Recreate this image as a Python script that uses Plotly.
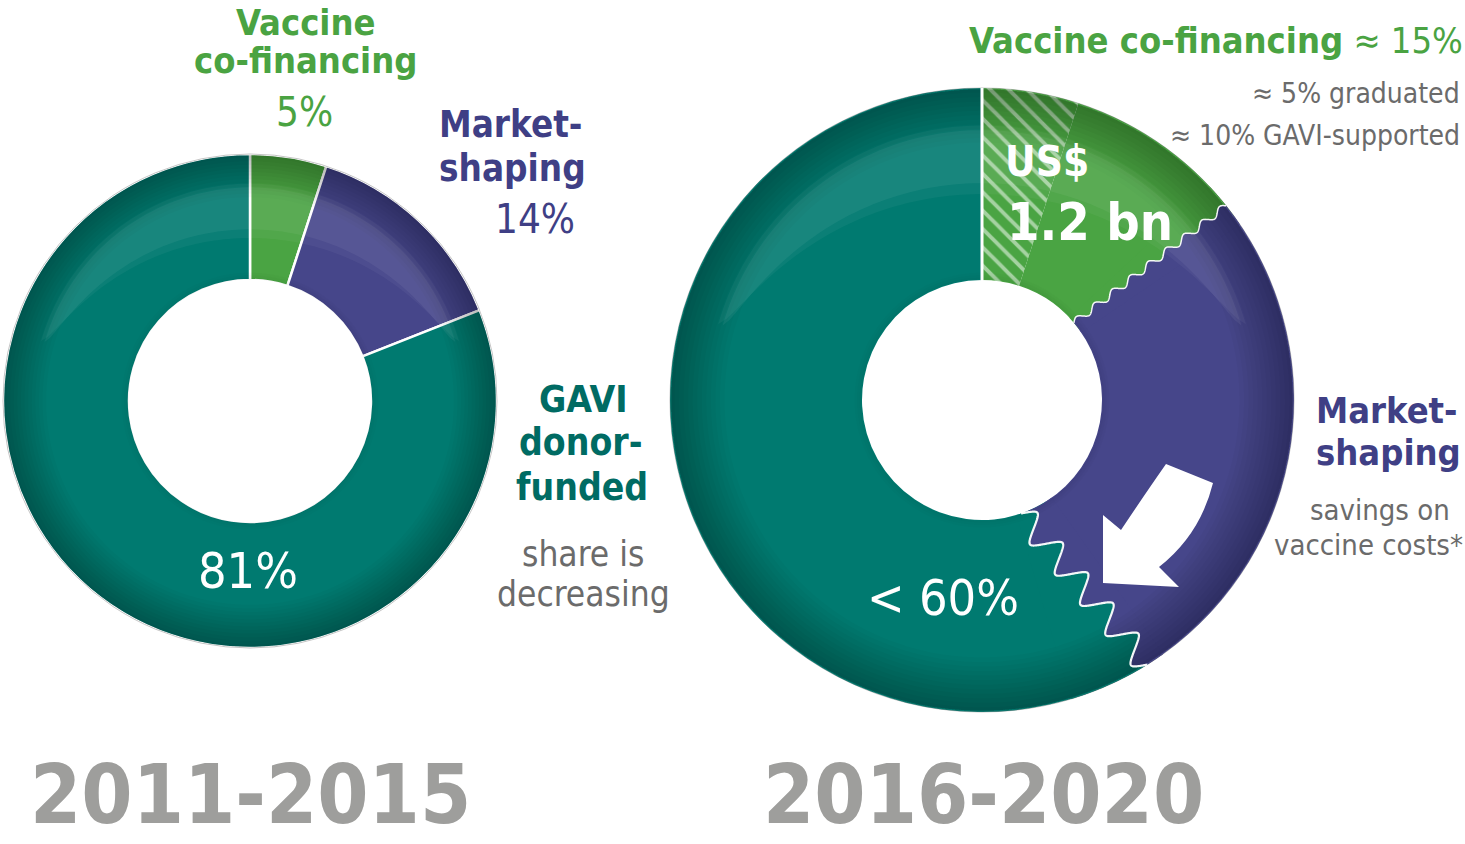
import numpy as np
import plotly.graph_objects as go

W, H = 1465, 844

# ---------------- data ----------------
left_labels = ["Vaccine co-financing", "Market-shaping", "GAVI donor-funded"]
left_values = [5, 14, 81]
right_labels = ["Co-financing: graduated", "Co-financing: GAVI-supported",
                "Market-shaping ", "GAVI donor-funded "]
right_values = [5, 10, 26, 59]
period_labels = ["2011-2015", "2016-2020"]

# ---------------- styles ----------------
GREEN = "#4aa443"
PURPLE = "#46468a"
TEAL = "#007a70"
GREEN_T = "#4aa342"
PURPLE_T = "#3f3f85"
TEAL_T = "#006b63"
GRAY_T = "#6b6b6b"
YEAR_T = "#9e9e9c"
FONT = "DejaVu Sans Condensed, Liberation Sans Narrow, Liberation Sans, Arial, sans-serif"

left_colors = [GREEN, PURPLE, TEAL]
right_colors = [GREEN, GREEN, PURPLE, TEAL]

LG = dict(cx=250, cy=401, R=247, r=121)
RG = dict(cx=982, cy=400, R=312, r=120)


def domain(g):
    return dict(x=[(g["cx"] - g["R"]) / W, (g["cx"] + g["R"]) / W],
                y=[1 - (g["cy"] + g["R"]) / H, 1 - (g["cy"] - g["R"]) / H])


fig = go.Figure()
fig.add_trace(go.Pie(
    labels=left_labels, values=left_values, hole=LG["r"] / LG["R"], sort=False,
    direction="clockwise", rotation=0, textinfo="none", domain=domain(LG),
    marker=dict(colors=left_colors, line=dict(color="white", width=2.5)),
    showlegend=False, hoverinfo="label+percent"))
fig.add_trace(go.Pie(
    labels=right_labels, values=right_values, hole=RG["r"] / RG["R"], sort=False,
    direction="clockwise", rotation=0, textinfo="none", domain=domain(RG),
    marker=dict(colors=right_colors, line=dict(color="white", width=0),
                pattern=dict(shape=["\\", "", "", ""], fgcolor="white",
                             fillmode="overlay", size=13, solidity=0.3)),
    showlegend=False, hoverinfo="label+percent"))


# ---------------- geometry helpers (pixel space -> paper) ----------------
def P(x, y):
    return x / W, 1 - y / H


def pt(g, ang, rad):
    return g["cx"] + rad * np.sin(ang), g["cy"] - rad * np.cos(ang)


def path_from(points, close=True):
    s = ""
    for i, (x, y) in enumerate(points):
        px, py = P(x, y)
        s += ("M" if i == 0 else "L") + f"{px:.5f},{py:.5f} "
    return s + ("Z" if close else "")


shapes = []


def add_poly(points, fill):
    shapes.append(dict(type="path", xref="paper", yref="paper", path=path_from(points),
                       fillcolor=fill, line=dict(width=0), layer="above"))


def add_line(points, color, lw):
    shapes.append(dict(type="path", xref="paper", yref="paper", path=path_from(points, close=False),
                       line=dict(width=lw, color=color), layer="above"))


def arc(g, rad, a0, a1, n=24):
    return [pt(g, a, rad) for a in np.linspace(a0, a1, n)]


def cum_angles(vals):
    c = np.cumsum([0] + list(vals)) / float(sum(vals))
    return 2 * np.pi * c


def wave(g, theta, off_in, off_out, amp, ncyc, sharp, col_lo, col_hi):
    a_in = theta + np.deg2rad(off_in)
    a_out = theta + np.deg2rad(off_out)
    A = np.array(pt(g, a_in, g["r"]))
    B = np.array(pt(g, a_out, g["R"]))
    d = (B - A) / np.linalg.norm(B - A)
    nrm = np.array([d[1], -d[0]])
    s = np.linspace(0, 1, 500)
    w = np.arcsin(sharp * np.sin(2 * np.pi * ncyc * s)) / np.arcsin(sharp)
    pts = A[None, :] + s[:, None] * (B - A)[None, :] + (amp * w)[:, None] * nrm[None, :]
    c = np.array([g["cx"], g["cy"]])
    v = pts - c
    rr = np.linalg.norm(v, axis=1)
    rc = np.clip(rr, g["r"], g["R"])
    pts = c + v / rr[:, None] * rc[:, None]
    angs = np.arctan2(pts[:, 0] - g["cx"], -(pts[:, 1] - g["cy"]))
    angs = np.where(angs < 0, angs + 2 * np.pi, angs)
    lo = min(angs.min(), theta) - 0.03
    hi = max(angs.max(), theta) + 0.03
    wp = [tuple(p) for p in pts]
    add_poly(wp + arc(g, g["R"], angs[-1], lo) + arc(g, g["r"], lo, angs[0]), col_lo)
    add_poly(wp + arc(g, g["R"], angs[-1], hi) + arc(g, g["r"], hi, angs[0]), col_hi)
    return wp


# right donut boundaries
ra = cum_angles(right_values)
wp1 = wave(RG, ra[2], -4.0, -2.5, 3.5, 8.5, 0.6, GREEN, PURPLE)
wp2 = wave(RG, ra[3], 13.4, 0.4, 13.0, 5, 0.8, PURPLE, TEAL)


# shading: darker toward outer edge, soft glossy highlight
def annulus(g, r_in, r_out, fill):
    outer = arc(g, r_out, 0, 2 * np.pi, 140)
    inner = arc(g, r_in, 2 * np.pi, 0, 140)
    s = path_from(outer) + " " + path_from(inner)
    shapes.append(dict(type="path", xref="paper", yref="paper", path=s, fillcolor=fill,
                       fillrule="evenodd", line=dict(width=0), layer="above"))


for g in (LG, RG):
    sc = g["R"] / 247.0
    for k in range(1, 13):
        annulus(g, g["R"] - 3.6 * k * sc, g["R"] - 1.2, "rgba(0,0,0,0.024)")
    for k in range(1, 4):
        annulus(g, g["r"] + 0.5, g["r"] + 2.5 * k, "rgba(0,0,0,0.015)")
    for (top, thick, op) in [(0.88, 0.22, 0.045), (0.865, 0.17, 0.055)]:
        phis = np.deg2rad(np.linspace(-74, 74, 90))
        up = [pt(g, a, top * g["R"]) for a in phis]
        low = [pt(g, a, top * g["R"] - thick * g["R"] * np.cos(a / np.deg2rad(74) * np.pi / 2) ** 0.7)
               for a in phis[::-1]]
        add_poly(up + low, f"rgba(255,255,255,{op})")
    shapes.append(dict(type="circle", xref="paper", yref="paper",
                       x0=(g["cx"] - g["R"]) / W, x1=(g["cx"] + g["R"]) / W,
                       y0=1 - (g["cy"] + g["R"]) / H, y1=1 - (g["cy"] - g["R"]) / H,
                       line=dict(color="rgba(90,90,90,0.35)", width=1), layer="above"))

# separators / wave outlines
add_line(wp1, "rgba(255,255,255,0.95)", 1.5)
add_line(wp2, "rgba(255,255,255,0.95)", 2.2)
add_line([pt(RG, ra[0], RG["r"]), pt(RG, ra[0], RG["R"])], "white", 3)

# white arrow (decoration)
arrow = ("M{0},{1} L{2},{3} Q{4},{5} {6},{7} L{8},{9} L{10},{11} L{12},{13} L{14},{15} Q{16},{17} {0},{1} Z")
apts = [(1166, 464), (1213, 483), (1200, 535), (1159, 567), (1179, 587), (1103, 583),
        (1103, 515), (1121, 530), (1145, 494)]
vals = []
for (x, y) in apts:
    px, py = P(x, y)
    vals += [f"{px:.5f}", f"{py:.5f}"]
shapes.append(dict(type="path", xref="paper", yref="paper",
                   path=arrow.format(*vals), fillcolor="white", line=dict(width=0), layer="above"))


# ---------------- text ----------------
def txt(s, x, base, size, color, bold=False, anchor="center", pad=1):
    ymid = base - 0.35 * size
    px, py = P(x, ymid)
    fig.add_annotation(x=px, y=py, xref="paper", yref="paper", text=s, showarrow=False,
                       xanchor=anchor, yanchor="middle", borderpad=pad,
                       font=dict(family=FONT, size=size, color=color,
                                 weight="bold" if bold else "normal"))


# left
txt("Vaccine", 305, 35, 36, GREEN_T, True)
txt("co-financing", 305, 73, 36, GREEN_T, True)
txt(f"{left_values[0]}%", 304, 126, 40, GREEN_T)
txt("Market-", 437, 137, 36.5, PURPLE_T, True, "left")
txt("shaping", 437, 181, 36.5, PURPLE_T, True, "left")
txt(f"{left_values[1]}%", 577, 233, 40, PURPLE_T, False, "right")
txt("GAVI", 583, 412, 37, TEAL_T, True)
txt("donor-", 581, 455, 37, TEAL_T, True)
txt("funded", 582, 500, 37, TEAL_T, True)
txt("share is", 583, 566, 35, GRAY_T)
txt("decreasing", 583, 606, 35, GRAY_T)
txt(f"{left_values[2]}%", 248, 588, 50, "white")
txt(period_labels[0], 250, 823, 82, YEAR_T, True, pad=0)

# right
cof = right_values[0] + right_values[1]
txt(f"<b>Vaccine co-financing</b> ≈ {cof}%", 1465, 53, 36, GREEN_T, False, "right")
txt(f"≈ {right_values[0]}% graduated", 1462, 103, 28, GRAY_T, False, "right")
txt(f"≈ {right_values[1]}% GAVI-supported", 1462, 145, 28, GRAY_T, False, "right")
txt("US$", 1003, 176, 42, "white", True, "left")
txt("1.2 bn", 1005, 240, 52, "white", True, "left")
txt("Market-", 1314, 423, 36, PURPLE_T, True, "left")
txt("shaping", 1314, 465, 36, PURPLE_T, True, "left")
txt("savings on", 1452, 520, 29, GRAY_T, False, "right")
txt("vaccine costs*", 1465, 555, 29, GRAY_T, False, "right")
txt(f"< {right_values[3] + 1}%", 943, 615, 50, "white")
txt(period_labels[1], 983, 823, 82, YEAR_T, True, pad=0)

fig.update_layout(
    width=W, height=H, margin=dict(l=0, r=0, t=0, b=0),
    paper_bgcolor="white", plot_bgcolor="white", shapes=shapes,
    showlegend=False,
)

fig.write_html("out.html", config={"displayModeBar": False},
               post_script="document.body.style.margin='0';document.body.style.overflow='hidden';")
